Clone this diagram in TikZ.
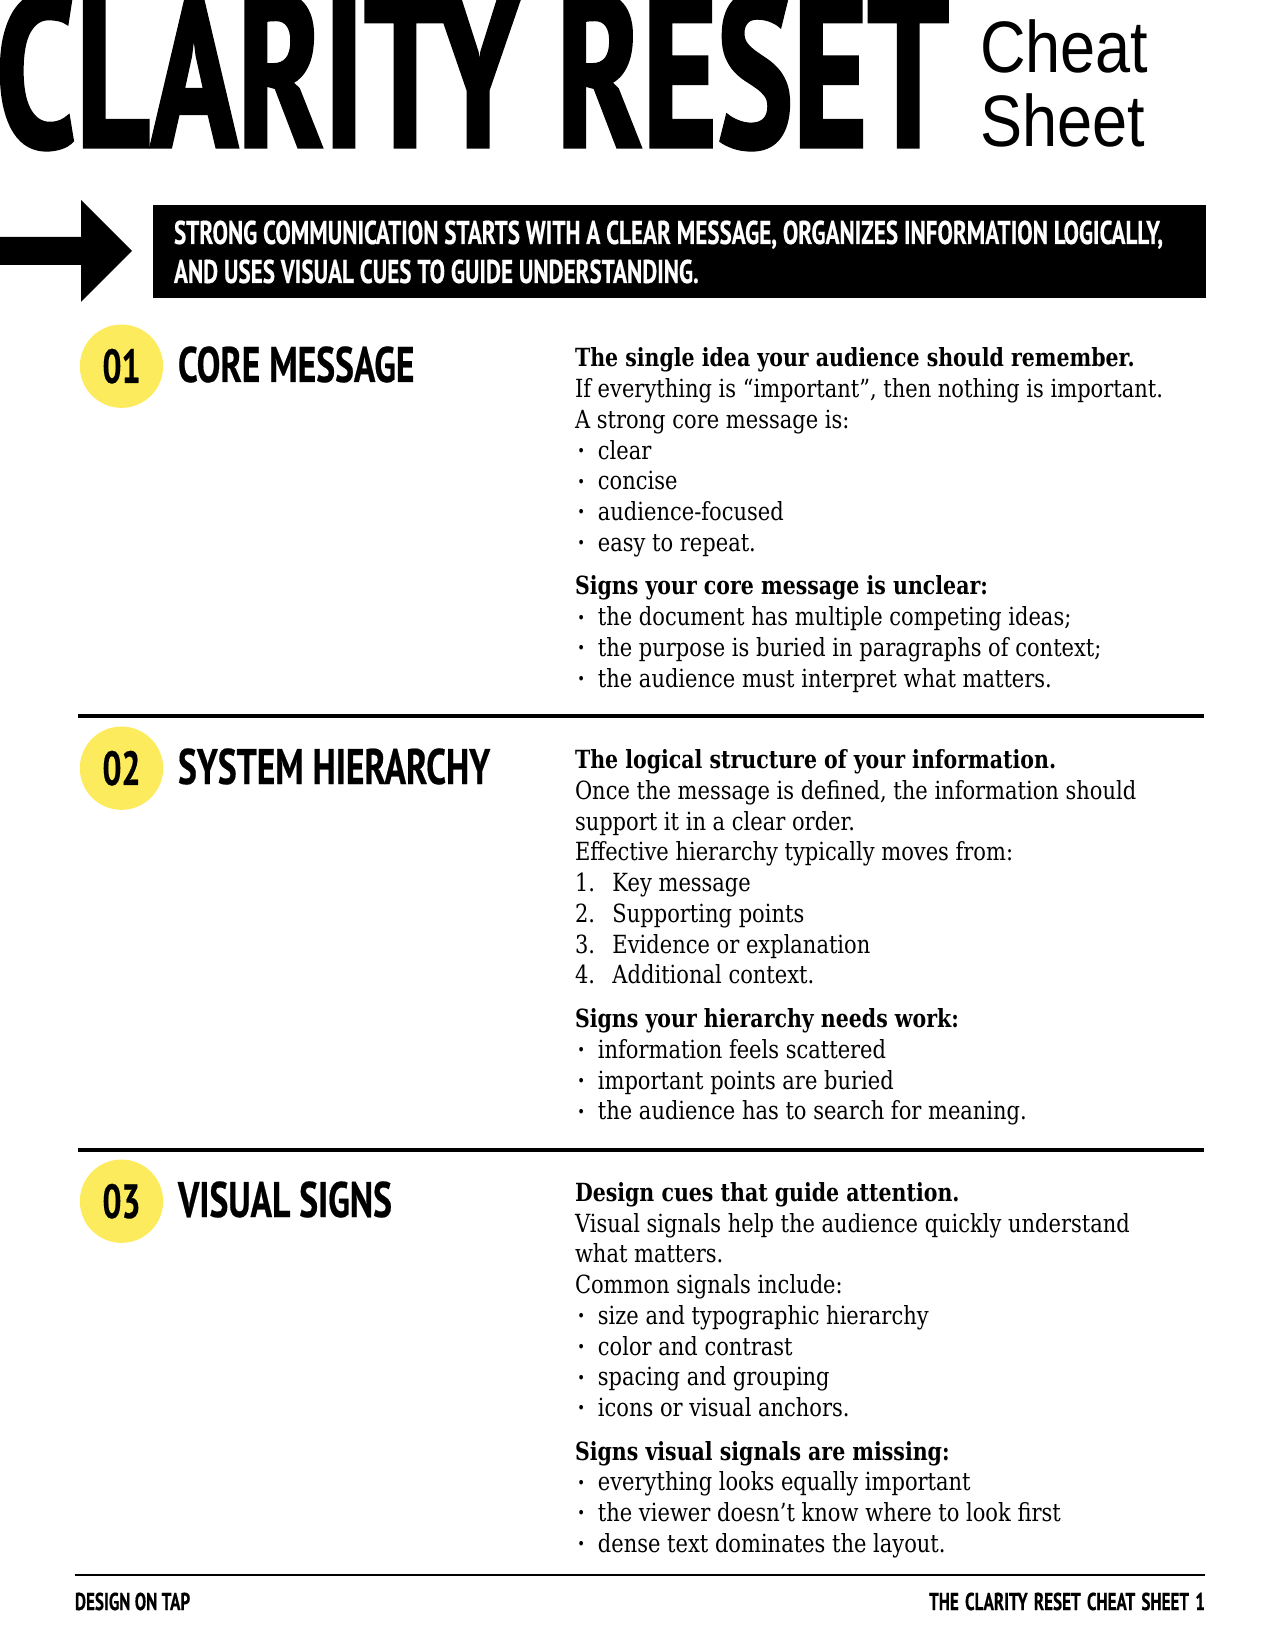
\documentclass[tikz,border=0pt]{standalone}
\usepackage{fontspec}
\setmainfont{DejaVu Serif}
\newfontfamily\bodyfont[FakeStretch=0.84]{DejaVu Serif}
\newfontfamily\boldfont[FakeStretch=0.82]{DejaVu Serif Bold}
\newfontfamily\titlefont[FakeStretch=0.66,FakeBold=1.5]{PT Sans Bold}
\newfontfamily\headfont[FakeStretch=0.71,FakeBold=0.4]{PT Sans Bold}
\newfontfamily\bannerfont[FakeStretch=0.702,FakeBold=0.4]{PT Sans Bold}
\newfontfamily\footfont[FakeStretch=0.7,FakeBold=0.4]{PT Sans Bold}
\newfontfamily\thinfont[FakeStretch=0.865]{Liberation Sans}
\newcommand{\bul}[1]{\makebox[11pt][l]{\hspace{1.1pt}\raisebox{1.3pt}{\fontsize{7.5pt}{7.5pt}\selectfont •}}#1}
\newcommand{\num}[2]{\makebox[18pt][l]{#1.}#2}
\definecolor{dotyellow}{HTML}{FCEC5D}
\tikzset{
  every node/.style={inner sep=0pt,outer sep=0pt},
  numdot/.style={circle,fill=dotyellow,minimum size=40pt,font=\footfont\fontsize{23}{23}\selectfont},
  heading/.style={anchor=base west,font=\headfont\fontsize{24}{24}\selectfont},
  body/.style={anchor=north west,align=left,font=\bodyfont\fontsize{12}{14.74}\selectfont},
  foot/.style={font=\footfont\fontsize{11.7}{14}\selectfont},
  rule/.style={line width=1.9pt}
}
\begin{document}
\begin{tikzpicture}[x=0.48pt,y=-0.48pt]
  \useasboundingbox (0,0) rectangle (1275,1650);
  % title
  \node [anchor=base west,font=\titlefont\fontsize{104}{104}\selectfont] (title) at (-4,147) {CLARITY RESET};
  \node [anchor=base west,font=\thinfont\fontsize{35}{35}\selectfont] (cheat) at (980,73) {Cheat};
  \node [anchor=base west,font=\thinfont\fontsize{35}{35}\selectfont] (sheet) at (980,147) {Sheet};
  % banner
  \fill (0,237) -- (81,237) -- (81,200) -- (132,251) -- (81,302) -- (81,265) -- (0,265) -- cycle;
  \fill (153,205) rectangle (1206,298);
  \node [anchor=base west,text=white,font=\bannerfont\fontsize{15.8}{15.8}\selectfont] (ban1) at (174,244) {STRONG COMMUNICATION STARTS WITH A CLEAR MESSAGE, ORGANIZES INFORMATION LOGICALLY,};
  \node [anchor=base west,text=white,font=\bannerfont\fontsize{15.8}{15.8}\selectfont] (ban2) at (174,283) {AND USES VISUAL CUES TO GUIDE UNDERSTANDING.};
  % section 1
  \node [numdot] (dot1) at (121.5,366.2) {01};
  \node [heading] (head1) at (178,382) {CORE MESSAGE};
  \node [body] (text1a) at (575,345.5) {\strut{\boldfont The single idea your audience should remember.}\\
    If everything is “important”, then nothing is important.\\
    A strong core message is:\\
    \bul{clear}\\
    \bul{concise}\\
    \bul{audience-focused}\\
    \bul{easy to repeat.}};
  \node [body] (text1b) at (575,573.5) {\strut{\boldfont Signs your core message is unclear:}\\
    \bul{the document has multiple competing ideas;}\\
    \bul{the purpose is buried in paragraphs of context;}\\
    \bul{the audience must interpret what matters.}};
  \draw [rule] (78,716) -- (1204,716);
  % section 2
  \node [numdot] (dot2) at (121.5,768.2) {02};
  \node [heading] (head2) at (178,784) {SYSTEM HIERARCHY};
  \node [body] (text2a) at (575,747.3) {\strut{\boldfont The logical structure of your information.}\\
    Once the message is defined, the information should\\
    support it in a clear order.\\
    Effective hierarchy typically moves from:\\
    \num{1}{Key message}\\
    \num{2}{Supporting points}\\
    \num{3}{Evidence or explanation}\\
    \num{4}{Additional context.}};
  \node [body] (text2b) at (575,1006.3) {\strut{\boldfont Signs your hierarchy needs work:}\\
    \bul{information feels scattered}\\
    \bul{important points are buried}\\
    \bul{the audience has to search for meaning.}};
  \draw [rule] (78,1150) -- (1204,1150);
  % section 3
  \node [numdot] (dot3) at (121.5,1201.2) {03};
  \node [heading] (head3) at (178,1217) {VISUAL SIGNS};
  \node [body] (text3a) at (575,1180) {\strut{\boldfont Design cues that guide attention.}\\
    Visual signals help the audience quickly understand\\
    what matters.\\
    Common signals include:\\
    \bul{size and typographic hierarchy}\\
    \bul{color and contrast}\\
    \bul{spacing and grouping}\\
    \bul{icons or visual anchors.}};
  \node [body] (text3b) at (575,1438.5) {\strut{\boldfont Signs visual signals are missing:}\\
    \bul{everything looks equally important}\\
    \bul{the viewer doesn’t know where to look first}\\
    \bul{dense text dominates the layout.}};
  % footer
  \draw [line width=1pt] (75,1575) -- (1205,1575);
  \node [foot,anchor=base west] (footl) at (75,1610) {DESIGN ON TAP};
  \node [foot,anchor=base east] (footr) at (1205,1610) {\spaceskip=3pt THE CLARITY RESET CHEAT SHEET 1};
\end{tikzpicture}
\end{document}
